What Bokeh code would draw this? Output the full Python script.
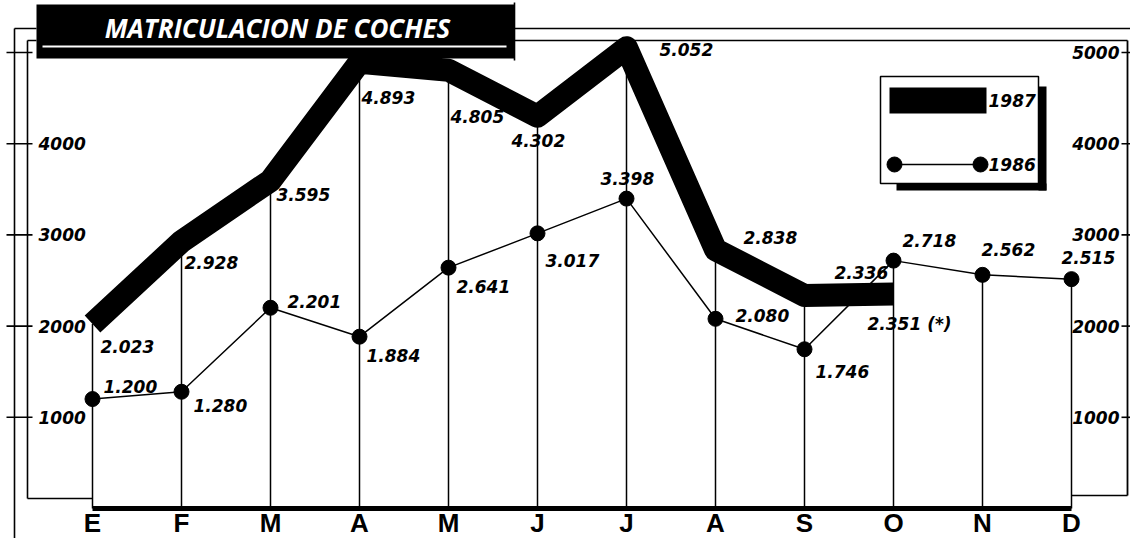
from bokeh.plotting import figure
from bokeh.models import Range1d, ColumnDataSource
from bokeh.core.properties import value
from bokeh.embed import file_html
from bokeh.resources import INLINE

# ---------------- data ----------------
months = ["E", "F", "M", "A", "M", "J", "J", "A", "S", "O", "N", "D"]
v1987 = [2023, 2928, 3595, 4893, 4805, 4302, 5052, 2838, 2336, 2351]
v1986 = [1200, 1280, 2201, 1884, 2641, 3017, 3398, 2080, 1746, 2718, 2562, 2515]
note_1987_last = " (*)"
yticks = [1000, 2000, 3000, 4000, 5000]
left_tick_labels = ["1000", "2000", "3000", "4000", ""]
right_tick_labels = ["1000", "2000", "3000", "4000", "5000"]
title_text = "MATRICULACION DE COCHES"
series_names = ["1987", "1986"]

# label placement (screen pixel offsets from each point), style only
off87 = [(8, 22), (3, 21), (6, 14), (2, 35), (2, 46), (-26, 24), (33, 2), (28, -12), (30, -23), (-26, 30)]
off86 = [(11, -13), (12, 14), (17, -6), (7, 19), (8, 19), (8, 27), (-26, -20), (20, -3), (11, 22), (9, -20), (-1, -25), (-10, -22)]

# ---------------- geometry helpers ----------------
PXM = 89.0      # pixels per month
X0 = 92         # screen x of first month
Y0 = 508.0      # screen y of value 0
PXU = (Y0 - 52) / 5000.0   # pixels per unit
W, H = 1130, 538


def sx(px):
    return (px - X0) / PXM


def sy(py):
    return (Y0 - py) / PXU


def dx(px):
    return px / PXM


def dy(px):
    return -px / PXU


p = figure(width=W, height=H, output_backend="svg", toolbar_location=None,
           x_range=Range1d(sx(0), sx(W)), y_range=Range1d(sy(H), sy(0)),
           min_border=0, background_fill_color="white", border_fill_color="white")
p.axis.visible = False
p.grid.visible = False
p.outline_line_color = None

FONT = value("DejaVu Sans")
LAB = dict(text_font=FONT, text_font_style="bold italic", text_font_size="17px", text_color="black")

idx = list(range(len(months)))
XD = X0 + PXM * (len(months) - 1)

# ---------- decorative frame ----------
frame_lines = [
    ([14, 36], [28, 28], 1.6),
    ([14, 14], [28, 538], 1.6),
    ([27, 36], [40, 40], 1.6),
    ([27, 27], [40, 498], 1.6),
    ([27, X0], [498, 498], 1.6),
    ([514, 1130], [28, 28], 1.6),
    ([514, 1127], [40, 40], 1.6),
    ([1127, 1127], [40, 495], 1.8),
    ([XD, 1127], [495, 495], 1.6),
]
for xs_, ys_, w_ in frame_lines:
    p.line([sx(a) for a in xs_], [sy(b) for b in ys_], line_color="black", line_width=w_)

# axis ticks from tick values
for t in yticks:
    p.line([sx(6), sx(32)], [t, t], line_color="black", line_width=1.6)
    p.line([sx(1121), sx(1130)], [t, t], line_color="black", line_width=1.6)

p.text(x=[sx(38)] * len(yticks), y=yticks, text=left_tick_labels,
       text_align="left", text_baseline="middle", **LAB)
p.text(x=[sx(1119)] * len(yticks), y=yticks, text=right_tick_labels,
       text_align="right", text_baseline="middle", **LAB)

# title box
p.quad(left=[sx(36)], right=[sx(514)], top=[sy(4)], bottom=[sy(58)], fill_color="black", line_color=None)
p.line([sx(42), sx(506)], [sy(46), sy(46)], line_color="white", line_width=2)
p.line([sx(514), sx(514)], [sy(2), sy(60)], line_color="black", line_width=1.6)
p.text(x=[sx(277)], y=[sy(27)], text=[title_text], text_align="center", text_baseline="middle",
       text_font=value("Open Sans"), text_font_style="bold italic", text_font_size="26px",
       text_color="white")

# ---------- chart ----------
tops = [max(v1986[i], v1987[i]) if i < len(v1987) else v1986[i] for i in idx]
p.segment(x0=idx, y0=[0] * len(idx), x1=idx, y1=tops, line_color="black", line_width=1.5)
p.line([idx[0], idx[-1]], [0, 0], line_color="black", line_width=5)

idx87 = idx[:len(v1987)]
p.line(idx87, v1987, line_color="black", line_width=23, line_join="round", line_cap="butt")

p.line(idx, v1986, line_color="black", line_width=1.5)
p.scatter(idx, v1986, size=15, fill_color="black", line_color="black")


def fmt(v):
    return f"{v:,}".replace(",", ".")


lab87 = [fmt(v) for v in v1987]
lab87[-1] = lab87[-1] + note_1987_last
lab86 = [fmt(v) for v in v1986]

s87 = ColumnDataSource(dict(
    x=[i + dx(o[0]) for i, o in zip(idx87, off87)],
    y=[v + dy(o[1]) for v, o in zip(v1987, off87)],
    t=lab87))
s86 = ColumnDataSource(dict(
    x=[i + dx(o[0]) for i, o in zip(idx, off86)],
    y=[v + dy(o[1]) for v, o in zip(v1986, off86)],
    t=lab86))
p.text(x="x", y="y", text="t", source=s87, text_align="left", text_baseline="middle", **LAB)
p.text(x="x", y="y", text="t", source=s86, text_align="left", text_baseline="middle", **LAB)

# month letters
p.text(x=idx, y=[sy(537)] * len(idx), text=months, text_align="center", text_baseline="bottom",
       text_font=value("Liberation Sans"), text_font_style="bold", text_font_size="26px",
       text_color="black")

# ---------- legend (hand drawn box) ----------
p.quad(left=[sx(1038)], right=[sx(1046)], top=[sy(86)], bottom=[sy(190)], fill_color="black", line_color=None)
p.quad(left=[sx(896)], right=[sx(1046)], top=[sy(183)], bottom=[sy(190)], fill_color="black", line_color=None)
p.quad(left=[sx(880)], right=[sx(1038)], top=[sy(76)], bottom=[sy(183)], fill_color="white",
       line_color="black", line_width=1.5)
p.line([sx(889), sx(986)], [sy(100), sy(100)], line_color="black", line_width=26, line_cap="butt")
p.line([sx(894), sx(980)], [sy(164), sy(164)], line_color="black", line_width=1.5)
p.scatter([sx(894), sx(980)], [sy(164), sy(164)], size=15, fill_color="black", line_color="black")
p.text(x=[sx(988), sx(988)], y=[sy(100), sy(164)], text=series_names, text_align="left",
       text_baseline="middle", **LAB)

open("out.html", "w").write(file_html(p, INLINE))
